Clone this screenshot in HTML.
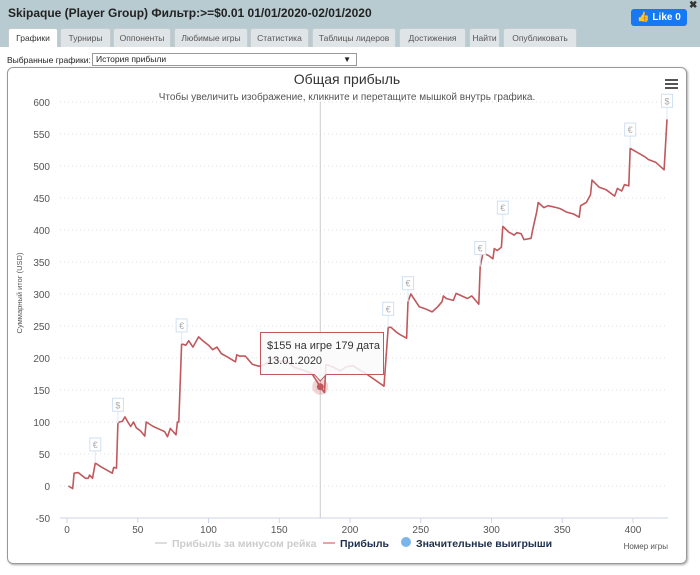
<!DOCTYPE html>
<html><head><meta charset="utf-8">
<style>
*{box-sizing:border-box;margin:0;padding:0}
body{width:700px;height:575px;overflow:hidden;background:#fff;font-family:"Liberation Sans","Noto Sans CJK SC",sans-serif;position:relative}
#hdr{position:absolute;left:0;top:0;width:700px;height:47px;background:#b8cbd1}
#title{position:absolute;left:8px;top:6px;font-size:12px;font-weight:bold;color:#222}
#like{position:absolute;left:631px;top:9px;width:56px;height:17px;background:#1877f2;border-radius:3px;color:#fff;font-size:10px;font-weight:bold;line-height:17px;text-align:center}
#close{position:absolute;left:689px;top:0px;font-size:10px;font-weight:bold;color:#333}
.tab{position:absolute;top:28px;height:19px;background:#dfe4e6;border:1px solid #c5cdd0;border-bottom:none;border-radius:3px 3px 0 0;font-size:8.5px;color:#555;text-align:center;line-height:18px}
.tab.act{background:#fff;color:#333}
#sel-label{position:absolute;left:7px;top:55px;font-size:8.5px;color:#222}
#sel{position:absolute;left:92px;top:53px;width:265px;height:13px;border:1px solid #999;font-size:8.5px;line-height:11px;padding-left:3px;color:#222}
#sel span{position:absolute;right:5px;top:0;font-size:8px}
#box{position:absolute;left:7px;top:67px;width:680px;height:497px;border:1px solid #999;border-radius:6px;box-shadow:1px 1px 2px #aaa}
svg{position:absolute;left:0;top:0}
</style></head><body>
<div id="hdr"></div>
<div id="title">Skipaque (Player Group) Фильтр:&gt;=$0.01 01/01/2020-02/01/2020</div>
<div id="like">👍 Like 0</div>
<div id="close">✖</div>
<div class="tab act" style="left:8px;width:50px">Графики</div>
<div class="tab" style="left:60px;width:51px">Турниры</div>
<div class="tab" style="left:113px;width:58px">Оппоненты</div>
<div class="tab" style="left:174px;width:74px">Любимые игры</div>
<div class="tab" style="left:250px;width:59px">Статистика</div>
<div class="tab" style="left:312px;width:84px">Таблицы лидеров</div>
<div class="tab" style="left:399px;width:67px">Достижения</div>
<div class="tab" style="left:469px;width:31px">Найти</div>
<div class="tab" style="left:503px;width:74px">Опубликовать</div>
<div id="sel-label">Выбранные графики:</div>
<div id="sel">История прибыли<span>▼</span></div>
<div id="box"></div>
<svg id="chart" width="700" height="575"></svg>
<script>
const yTicks=[-50,0,50,100,150,200,250,300,350,400,450,500,550,600];
const xTicks=[0,50,100,150,200,250,300,350,400];
const games=[1,4,5,8,13,15,16,18,20,24,32,33,35,36,37,39,41,43,45,47,49,52,55,56,61,66,69,71,73,77,78,79,81,84,86,89,93,96,100,103,106,109,113,119,120,122,126,131,136,140,146,150,155,160,167,173,179,182,183,188,193,197,202,211,224,227,229,233,235,240,241,243,249,253,258,262,265,266,268,273,275,283,286,291,292,294,298,301,302,304,307,308,312,316,318,321,323,328,329,332,333,337,340,346,349,353,358,362,363,367,370,371,376,381,387,389,392,394,397,398,400,408,411,416,422,424];
const profit=[0,-4,20,21,12,12,17,12,36,30,20,29,28,98,100,101,108,100,93,100,91,86,78,100,93,88,85,77,90,80,100,100,222,220,227,217,233,227,220,213,217,207,202,194,205,203,203,190,187,190,200,195,195,186,181,176,155,146,190,186,180,186,188,176,156,248,248,240,237,231,288,300,280,277,272,280,288,297,293,290,301,293,297,284,343,364,360,355,371,368,373,406,397,392,396,394,385,387,399,429,443,435,438,435,433,428,425,420,438,443,455,478,467,463,453,465,461,471,469,528,525,515,510,506,494,573];
const flagGames=[20,36,81,227,241,292,308,398,424];
const flagSymbols=["€","$","€","€","€","€","€","€","$"];
const hoverGame=179, hoverValue=155;

const NS="http://www.w3.org/2000/svg";
const svg=document.getElementById('chart');
const X0=60,X1=668,Y0=102,Y1=518;
const xs=g=>67+g*(633-67)/400;
const ys=v=>486-v*(486-102)/600;
function mk(tag,attrs,parent){const e=document.createElementNS(NS,tag);for(const k in attrs)e.setAttribute(k,attrs[k]);(parent||svg).appendChild(e);return e;}

let t=mk('text',{x:347,y:84,'text-anchor':'middle','font-size':14,fill:'#333'});t.textContent='Общая прибыль';


t=mk('text',{x:347,y:100,'text-anchor':'middle','font-size':10,fill:'#555'});t.textContent='Чтобы увеличить изображение, кликните и перетащите мышкой внутрь графика.';


const menu=mk('g',{});


[79,83,87].forEach(y=>mk('rect',{x:665,y:y,width:13,height:2,fill:'#555'},menu));

yTicks.forEach(v=>{
  if(v>-50){const l=mk('line',{x1:X0,x2:X1,y1:ys(v),y2:ys(v),stroke:'#ddd','stroke-dasharray':'1,3'});
  
  }
  const tx=mk('text',{x:50,y:ys(v)+4,'text-anchor':'end','font-size':10,fill:'#555'});tx.textContent=v;
  
  
});
let ax=mk('line',{x1:X0,x2:X1,y1:Y1,y2:Y1,stroke:'#ccd6eb'});


xTicks.forEach(g=>{
  const tk=mk('line',{x1:xs(g),x2:xs(g),y1:Y1,y2:Y1+5,stroke:'#ccd6eb'});
  
  
  const tx=mk('text',{x:xs(g),y:533,'text-anchor':'middle','font-size':10,fill:'#555'});tx.textContent=g;
  
  
});
t=mk('text',{x:22,y:293,'text-anchor':'middle','font-size':7.5,fill:'#555',transform:'rotate(-90 22 293)'});t.textContent='Суммарный итог (USD)';


t=mk('text',{x:668,y:549,'text-anchor':'end','font-size':8,fill:'#555'});t.textContent='Номер игры';



let ch=mk('line',{x1:xs(hoverGame),x2:xs(hoverGame),y1:Y0,y2:Y1,stroke:'#ccc'});



const pts=games.map((g,i)=>xs(g).toFixed(1)+','+ys(profit[i]).toFixed(1)).join(' ');
const line=mk('polyline',{points:pts,fill:'none',stroke:'#c0585c','stroke-width':1.6,'stroke-linejoin':'round'});



flagGames.forEach((g,i)=>{
  const idx=games.indexOf(g)>=0?games.indexOf(g):games.findIndex(x=>x>=g);
  const v=profit[idx];
  const fx=xs(g), fy=ys(v)-18;
  const gr=mk('g',{});
  
  
  mk('line',{x1:fx,x2:fx,y1:fy+6,y2:ys(v),stroke:'#dde8f5'},gr);
  mk('rect',{x:fx-5.5,y:fy-7,width:11,height:13,fill:'#fff',stroke:'#cfe0f3'},gr);
  const tx=mk('text',{x:fx,y:fy+3,'text-anchor':'middle','font-size':9,fill:'#aaa'},gr);tx.textContent=flagSymbols[i];
});

const hx=xs(hoverGame),hy=ys(hoverValue);
let c=mk('circle',{cx:hx,cy:hy,r:8,fill:'#c0585c','fill-opacity':0.25});


c=mk('circle',{cx:hx,cy:hy,r:3.5,fill:'#c0585c'});



const tg=mk('g',{});


mk('path',{d:`M260.5,332.5 H383.5 V374.5 H${hx+6} L${hx},381 L${hx-6},374.5 H260.5 Z`,fill:'rgba(250,250,250,0.85)',stroke:'#c0585c','stroke-width':1},tg);
let tt=mk('text',{x:267,y:349,'font-size':11,fill:'#333'},tg);tt.textContent='$'+hoverValue+' на игре '+hoverGame+' дата';
tt=mk('text',{x:267,y:364,'font-size':11,fill:'#333'},tg);tt.textContent='13.01.2020';

const lg=mk('g',{});


const e1=mk('g',{},lg);


mk('line',{x1:155,x2:167,y1:543,y2:543,stroke:'#ddd','stroke-width':2},e1);
tt=mk('text',{x:172,y:547,'font-size':10.5,'font-weight':'bold',fill:'#ccc'},e1);tt.textContent='Прибыль за минусом рейка';
const e2=mk('g',{},lg);


mk('line',{x1:323,x2:335,y1:543,y2:543,stroke:'#e3a6a8','stroke-width':2},e2);
tt=mk('text',{x:340,y:547,'font-size':10.5,'font-weight':'bold',fill:'#1d2e4e'},e2);tt.textContent='Прибыль';
const e3=mk('g',{},lg);


mk('circle',{cx:406,cy:542,r:5,fill:'#7cb5ec'},e3);
tt=mk('text',{x:416,y:547,'font-size':10.5,'font-weight':'bold',fill:'#1d2e4e'},e3);tt.textContent='Значительные выигрыши';
</script>
</body></html>
